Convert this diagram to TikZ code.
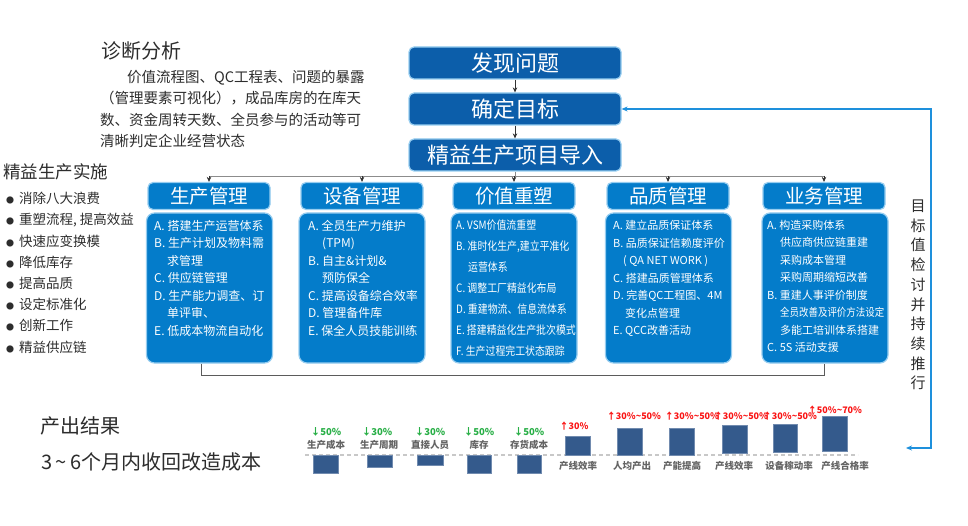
\documentclass[tikz,border=0pt]{standalone}
\usepackage{fontspec}
\usepackage{graphicx}
\setmainfont{Noto Sans CJK SC}
\newfontfamily\narrowfont[FakeStretch=0.86]{Noto Sans CJK SC}
\usetikzlibrary{arrows.meta}
\definecolor{topblue}{RGB}{12,94,170}
\definecolor{colblue}{RGB}{4,124,202}
\definecolor{edgeblue}{RGB}{150,205,240}
\definecolor{fbblue}{RGB}{30,144,220}
\definecolor{arrowgray}{RGB}{50,50,50}
\definecolor{branchgray}{RGB}{140,140,140}
\definecolor{textdark}{RGB}{45,45,45}
\definecolor{barblue}{RGB}{52,90,140}
\definecolor{labgray}{RGB}{100,100,100}
\definecolor{pgreen}{RGB}{40,175,70}
\definecolor{pred}{RGB}{250,20,20}
\definecolor{dashgray}{RGB}{200,200,200}
\tikzset{
  topbox/.style={draw=edgeblue, line width=1.2pt, fill=topblue, rounded corners=5pt,
    minimum width=212pt, minimum height=32pt, text=white, inner sep=0pt,
    font=\fontsize{22}{24}\selectfont},
  headbox/.style={draw=edgeblue, line width=1.2pt, fill=colblue, rounded corners=5pt,
    minimum width=122pt, minimum height=27pt, text=white, inner sep=0pt,
    font=\fontsize{19.5}{22}\selectfont},
  bodybox/.style={draw=edgeblue, line width=1.2pt, fill=colblue, rounded corners=8pt,
    minimum width=126pt, minimum height=150pt, inner sep=0pt},
  bodytext/.style={anchor=north west, align=left, inner sep=0pt, text=white},
  darrow/.style={draw=arrowgray, line width=0.9pt, -{Stealth[length=5pt,width=4.5pt]}},
  branch/.style={draw=branchgray, line width=0.9pt},
  bracketline/.style={draw=arrowgray!80, line width=0.9pt},
  fbline/.style={draw=fbblue, line width=1.4pt,
    {Stealth[length=6pt,width=5pt]}-{Stealth[length=6pt,width=5pt]}},
  plain/.style={inner sep=0pt, text=textdark},
  barlab/.style={inner sep=0pt, text=labgray, font=\fontsize{9.5}{10}\selectfont\bfseries},
  pctg/.style={inner sep=0pt, text=pgreen, font=\fontsize{9.5}{10}\selectfont\bfseries},
  pctr/.style={inner sep=0pt, text=pred, font=\fontsize{9}{10}\selectfont\bfseries},
  bar/.style={fill=barblue, draw=barblue!70!white, line width=0.4pt}
}
\begin{document}
\begin{tikzpicture}[x=1pt,y=-1pt]
\useasboundingbox[fill=white] (0,0) rectangle (968,526);

% ---------- left texts ----------
\node[plain, anchor=west, font=\fontsize{20}{22}\selectfont] (zd) at (101,51) {诊断分析};
\node[plain, anchor=north west, align=left, font=\fontsize{14.5}{21.5}\selectfont] (zdtext) at (100,70)
  {\hspace*{27pt}价值流程图、QC工程表、问题的暴露\\（管理要素可视化），成品库房的在库天\\数、资金周转天数、全员参与的活动等可\\清晰判定企业经营状态};

\node[plain, anchor=west, font=\fontsize{17.5}{20}\selectfont] (jyss) at (3,172) {精益生产实施};
\node[plain, anchor=north west, align=left, font=\fontsize{13.5}{21.2}\selectfont] (jylist) at (6,192)
  {{\fontsize{8}{8}\selectfont ●}\hspace{5pt}消除八大浪费\\
   {\fontsize{8}{8}\selectfont ●}\hspace{5pt}重塑流程, 提高效益\\
   {\fontsize{8}{8}\selectfont ●}\hspace{5pt}快速应变换模\\
   {\fontsize{8}{8}\selectfont ●}\hspace{5pt}降低库存\\
   {\fontsize{8}{8}\selectfont ●}\hspace{5pt}提高品质\\
   {\fontsize{8}{8}\selectfont ●}\hspace{5pt}设定标准化\\
   {\fontsize{8}{8}\selectfont ●}\hspace{5pt}创新工作\\
   {\fontsize{8}{8}\selectfont ●}\hspace{5pt}精益供应链};

\node[plain, anchor=west, font=\fontsize{20}{22}\selectfont] (ccjg) at (40,426) {产出结果};
\node[plain, anchor=west, font=\fontsize{20}{22}\selectfont] (ccsub) at (41,462) {3\,\textasciitilde\,6个月内收回改造成本};

% ---------- top flow ----------
\node[topbox] (fx) at (515,63) {发现问题};
\node[topbox] (qd) at (515,109) {确定目标};
\node[topbox] (jy) at (515,155) {精益生产项目导入};
\draw[darrow] (fx) -- (qd);
\draw[darrow] (qd) -- (jy);

% ---------- column headers ----------
\node[headbox] (h1) at (209,196) {生产管理};
\node[headbox] (h2) at (362,196) {设备管理};
\node[headbox] (h3) at (514,196) {价值重塑};
\node[headbox] (h4) at (668,196) {品质管理};
\node[headbox] (h5) at (824,196) {业务管理};

\coordinate (br) at (515,176);
\draw[branch] (jy.south) -- (br);
\draw[branch] (h1.north |- br) -- (h5.north |- br);
\foreach \h in {h1,h2,h3,h4,h5} { \draw[darrow] (\h.north |- br) -- (\h.north); }

% ---------- column bodies ----------
\node[bodybox] (b1) at (209.5,288) {};
\node[bodybox] (b2) at (362,288) {};
\node[bodybox] (b3) at (514,288) {};
\node[bodybox] (b4) at (668.5,288) {};
\node[bodybox] (b5) at (825,288) {};

\node[bodytext, font=\fontsize{12}{17.5}\selectfont] (t1) at (154,220)
  {A. 搭建生产运营体系\\B. 生产计划及物料需\\\hspace*{13pt}求管理\\C. 供应链管理\\D. 生产能力调查、订\\\hspace*{13pt}单评审、\\E. 低成本物流自动化};
\node[bodytext, font=\fontsize{12}{17.5}\selectfont] (t2) at (308,220)
  {A. 全员生产力维护\\\hspace*{14pt}(TPM)\\B. 自主\&计划\&\\\hspace*{14pt}预防保全\\C. 提高设备综合效率\\D. 管理备件库\\E. 保全人员技能训练};
\node[bodytext, font=\narrowfont\fontsize{11.5}{21}\selectfont] (t3) at (456,220)
  {A. VSM价值流重塑\\B. 准时化生产,建立平准化\\\hspace*{12pt}运营体系\\C. 调整工厂精益化布局\\D. 重建物流、信息流体系\\E. 搭建精益化生产批次模式\\F. 生产过程完工状态跟踪};
\node[bodytext, font=\fontsize{11}{17.5}\selectfont] (t4) at (613,220)
  {A. 建立品质保证体系\\B. 品质保证信赖度评价\\\hspace*{10pt}( QA NET WORK )\\C. 搭建品质管理体系\\D. 完善QC工程图、4M\\\hspace*{12pt}变化点管理\\E. QCC改善活动};
\node[bodytext, font=\fontsize{11}{17.5}\selectfont] (t5) at (767,220)
  {A. 构造采购体系\\\hspace*{13pt}供应商供应链重建\\\hspace*{13pt}采购成本管理\\\hspace*{13pt}采购周期缩短改善\\B. 重建人事评价制度\\\hspace*{13pt}\scalebox{0.86}[1]{全员改善及评价方法设定}\\\hspace*{13pt}多能工培训体系搭建\\C. 5S 活动支援};

% bracket under columns
\coordinate (bkl) at (201,375);
\coordinate (bkr) at (824,375);
\draw[bracketline] (b1.south -| bkl) -- (bkl) -- (bkr) -- (b5.south -| bkr);

% ---------- feedback loop ----------
\coordinate (fb1) at (906,448);
\coordinate (fb2) at (931,448);
\draw[fbline] (fb1) -- (fb2) -- (fb2 |- qd.east) -- (qd.east);
\node[plain, align=center, font=\fontsize{15}{19.7}\selectfont] (vt) at (918,295)
  {目\\标\\值\\检\\讨\\并\\持\\续\\推\\行};

% ---------- result chart ----------
\draw[draw=dashgray, line width=1.2pt, dash pattern=on 4pt off 3pt] (305,455) -- (858,455);
\draw[bar] (313,455) rectangle (338,473);
\draw[bar] (367,455) rectangle (392,467);
\draw[bar] (417,455) rectangle (443,465);
\draw[bar] (467,455) rectangle (491,473);
\draw[bar] (517,455) rectangle (541,473);
\draw[bar] (565,436) rectangle (590,455);
\draw[bar] (617,428) rectangle (642,455);
\draw[bar] (669,428) rectangle (694,455);
\draw[bar] (722,425) rectangle (747,453);
\draw[bar] (773,424) rectangle (797,452);
\draw[bar] (822,416) rectangle (847,451);

\node[pctg] (p1) at (326,432) {↓50\%};
\node[pctg] (p2) at (377,432) {↓30\%};
\node[pctg] (p3) at (430,432) {↓30\%};
\node[pctg] (p4) at (479,432) {↓50\%};
\node[pctg] (p5) at (529,432) {↓50\%};
\node[barlab] (l1) at (326,445) {生产成本};
\node[barlab] (l2) at (379,445) {生产周期};
\node[barlab] (l3) at (430,445) {直接人员};
\node[barlab] (l4) at (479,445) {库存};
\node[barlab] (l5) at (529,445) {存货成本};

\node[pctr] (p6) at (574,426) {↑30\%};
\node[pctr] (p7) at (634,416) {↑30\%\textasciitilde50\%};
\node[pctr] (p8) at (692,416) {↑30\%\textasciitilde50\%};
\node[pctr] (p9) at (741,416) {↑30\%\textasciitilde50\%};
\node[pctr] (p10) at (790,416) {↑30\%\textasciitilde50\%};
\node[pctr] (p11) at (835,410) {↑50\%\textasciitilde70\%};
\node[barlab] (l6) at (578,466) {产线效率};
\node[barlab] (l7) at (632,466) {人均产出};
\node[barlab] (l8) at (682,466) {产能提高};
\node[barlab] (l9) at (734,466) {产线效率};
\node[barlab] (l10) at (789,466) {设备稼动率};
\node[barlab] (l11) at (845,466) {产线合格率};
\end{tikzpicture}
\end{document}
